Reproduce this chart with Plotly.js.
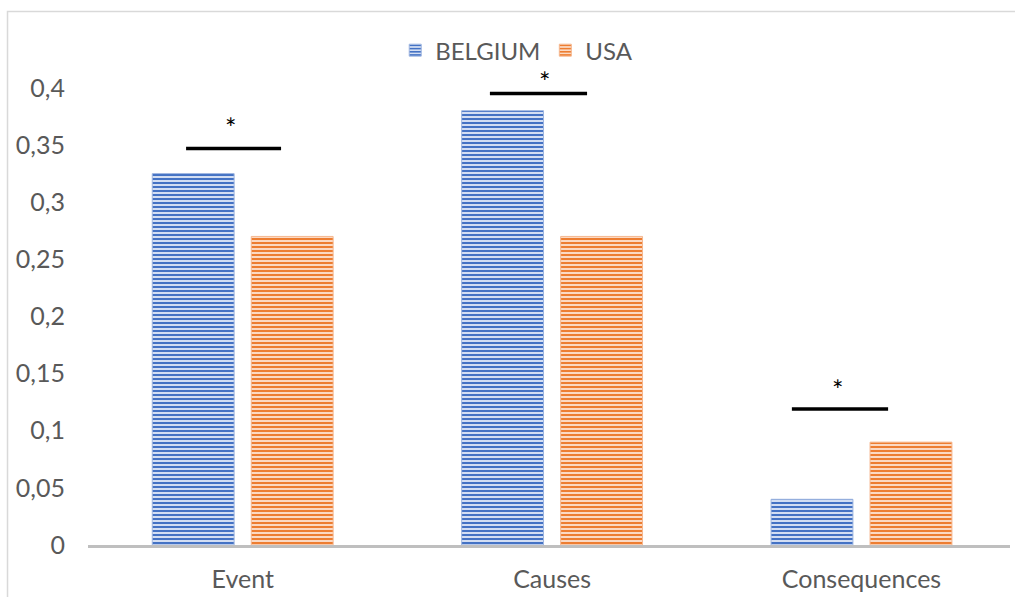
<!DOCTYPE html>
<html>
<head>
<meta charset="utf-8">
<script src="https://cdn.plot.ly/plotly-3.0.1.min.js"></script>
<style>html,body{margin:0;padding:0;background:#fff;}#chart{width:1015px;height:597px;}</style>
</head>
<body>
<div id="chart"></div>
<script>
const categories = ['Event', 'Causes', 'Consequences'];
const belgium = [0.325, 0.38, 0.04];
const usa = [0.27, 0.27, 0.09];
const seriesNames = ['BELGIUM', 'USA'];
// significance brackets: x extents (category units), y level, asterisk position
const sigX0 = [-0.183, 0.799, 1.775];
const sigX1 = [0.124, 1.113, 2.086];
const sigY = [0.347, 0.395, 0.119];
const starX = [-0.038, 0.977, 1.924];
const starY = [0.365, 0.406, 0.136];

const blue = '#4472C4', orange = '#ED7D31';
const traces = [
  {type:'bar', name:seriesNames[0], x:categories, y:belgium,
   marker:{color:blue, line:{width:1, color:'#9db5e0'},
     pattern:{shape:'-', fgcolor:blue, bgcolor:'#d3def3', size:4, solidity:0.5}}},
  {type:'bar', name:seriesNames[1], x:categories, y:usa,
   marker:{color:orange, line:{width:1, color:'#f5b78f'},
     pattern:{shape:'-', fgcolor:orange, bgcolor:'#fbd9c3', size:4, solidity:0.5}}}
];

const shapes = [{type:'rect', xref:'paper', yref:'paper', x0:-0.0873, x1:1.02, y0:-0.3, y1:1.1115,
  line:{color:'#d9d9d9', width:1.5}, fillcolor:'rgba(0,0,0,0)'}];
const annotations = [];
for (let i = 0; i < sigY.length; i++) {
  shapes.push({type:'line', xref:'x', yref:'y', x0:sigX0[i], x1:sigX1[i], y0:sigY[i], y1:sigY[i],
    line:{color:'#000', width:3.5}});
  annotations.push({xref:'x', yref:'y', x:starX[i], y:starY[i], text:'*', showarrow:false,
    font:{size:27, color:'#000', family:'Lato, sans-serif'}});
}

const layout = {
  width:1015, height:597,
  margin:{l:88, r:5, t:65, b:52},
  paper_bgcolor:'#fff', plot_bgcolor:'#fff',
  separators:', ',
  font:{family:'Lato, "Open Sans", sans-serif', size:24, color:'#595959'},
  barmode:'group', bargap:0.36, bargroupgap:0.173,
  xaxis:{type:'category', showline:true, linecolor:'#bfbfbf', linewidth:2.5, showgrid:false,
    ticks:'', ticklabelstandoff:10, tickfont:{size:25, color:'#595959'}, range:[-0.5, 2.48], fixedrange:true},
  yaxis:{range:[0, 0.42], dtick:0.05, tick0:0, showgrid:false, zeroline:false, showline:false,
    ticks:'', ticklabelstandoff:22, tickfont:{size:25, color:'#595959'}},
  legend:{orientation:'h', x:0.465, xanchor:'center', y:1.03, yanchor:'middle',
    font:{size:24, color:'#595959'}, itemwidth:30, traceorder:'normal'},
  shapes:shapes, annotations:annotations, showlegend:true
};
Plotly.newPlot('chart', traces, layout, {displayModeBar:false, staticPlot:true});
</script>
</body>
</html>
